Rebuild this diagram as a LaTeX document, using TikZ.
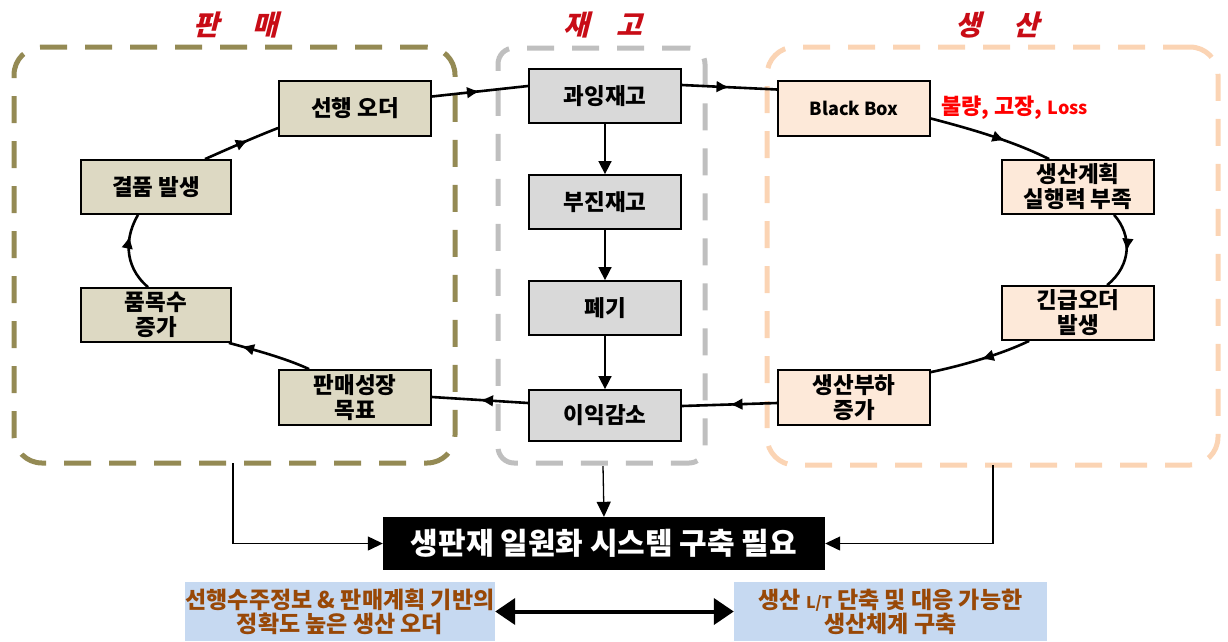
\documentclass[tikz,border=0pt]{standalone}
\usepackage{fontspec}
\setmainfont{Noto Sans CJK KR}
\newfontfamily\titlefont{Noto Sans CJK KR}[FakeSlant=0.25]
\usetikzlibrary{arrows.meta,decorations.markings,calc}
\definecolor{cSales}{RGB}{148,138,84}
\definecolor{cInv}{RGB}{191,191,191}
\definecolor{cProd}{RGB}{251,212,180}
\definecolor{cSalesFill}{RGB}{221,217,195}
\definecolor{cInvFill}{RGB}{217,217,217}
\definecolor{cProdFill}{RGB}{253,233,217}
\definecolor{cTitle}{RGB}{200,12,22}
\definecolor{cBlue}{RGB}{198,217,241}
\definecolor{cBrown}{RGB}{152,72,7}
\begin{document}
\begin{tikzpicture}[x=1pt,y=-1pt,
  box/.style={draw=black, line width=1.8pt, minimum width=152pt, minimum height=54pt,
    inner sep=1pt, align=center, font=\fontsize{22.5}{25}\selectfont\bfseries},
  sbox/.style={box, fill=cSalesFill},
  ibox/.style={box, fill=cInvFill},
  pbox/.style={box, fill=cProdFill},
  grp/.style={line width=5pt, dash pattern=on 27pt off 18pt, rounded corners=28pt,
    inner sep=0pt, outer sep=0pt},
  grptitle/.style={text=cTitle, font=\titlefont\fontsize{28}{30}\selectfont\bfseries},
  loopline/.style={line width=2.6pt, postaction={decorate},
    decoration={markings, mark=at position #1 with {\arrow{Latex[length=13pt,width=12pt]}}}},
  loopline/.default=0.5,
  vline/.style={line width=1.6pt, -{Triangle[length=13pt,width=13pt]}},
  thinline/.style={line width=1.3pt, -{Triangle[length=15pt,width=14pt]}},
  bluebox/.style={fill=cBlue, minimum width=#1, minimum height=59pt, inner sep=0pt,
    align=center, text=cBrown, font=\fontsize{23}{24}\selectfont\bfseries},
]
\useasboundingbox (0,0) rectangle (1228,641);

% groups
\node[grp, draw=cSales, minimum width=441pt, minimum height=416pt] (gs) at (234.5,255) {};
\node[grp, draw=cInv, rounded corners=16pt, minimum width=207pt, minimum height=415pt] (gi) at (601.5,255.5) {};
\node[grp, draw=cProd, minimum width=451pt, minimum height=418pt] (gp) at (992.5,256) {};

% titles
\node[grptitle] (ts) at (236,25) {판\hspace{34pt}매};
\node[grptitle] (ti) at (602.5,25) {재\hspace{27pt}고};
\node[grptitle] (tp) at (997.5,25) {생\hspace{33pt}산};

% sales boxes
\node[sbox, minimum height=55pt] (sh) at (355,108.5) {선행 오더};
\node[sbox, minimum width=150pt] (gp1) at (156,187) {결품 발생};
\node[sbox, minimum width=150pt] (pm) at (156,315) {품목수\\증가};
\node[sbox, minimum height=55pt] (ps) at (355,397.5) {판매성장\\목표};

% inventory boxes
\node[ibox] (gy) at (605,96) {과잉재고};
\node[ibox] (bj) at (605,202) {부진재고};
\node[ibox] (pg) at (605,308) {폐기};
\node[ibox, minimum height=51pt] (ig) at (605,415.5) {이익감소};

% production boxes
\node[pbox, minimum height=55pt, font=\fontsize{18}{22}\selectfont\bfseries] (bb) at (854,108.5) {Black Box};
\node[pbox] (pl) at (1078,187) {생산계획\\실행력 부족};
\node[pbox] (eo) at (1078,313) {긴급오더\\발생};
\node[pbox, minimum height=55pt] (pb) at (854,397.5) {생산부하\\증가};

\node[anchor=west, inner sep=0pt, text=red, font=\fontsize{22}{24}\selectfont\bfseries] (fault) at (941,108)
  {불량, 고장, {\fontsize{18}{20}\selectfont Loss}};

% bottom
\node[fill=black, text=white, minimum width=442pt, minimum height=53pt, inner sep=0pt,
  font=\fontsize{30}{32}\selectfont\bfseries] (sys) at (604,543.5) {생판재 일원화 시스템 구축 필요};
\node[bluebox=310pt] (lb) at (340,611.5) {선행수주정보 \& 판매계획 기반의\\정확도 높은 생산 오더};
\node[bluebox=313pt] (rb) at (890.5,611.5) {생산 {\fontsize{16}{20}\selectfont L/T} 단축 및 대응 가능한\\생산체계 구축};

% loop connectors
\draw[loopline] ($(sh.east)+(0,-12)$) -- ($(gy.west)+(0,-10)$);
\draw[loopline] ($(gy.east)+(0,-11)$) -- ($(bb.west)+(0,-19)$);
\draw[loopline=0.62] ($(bb.east)+(0,10)$) .. controls (975,130) and (1015,142) .. ($(pl.north west)+(48,0)$);
\draw[loopline] ($(pl.south west)+(113,0)$) .. controls (1132,235) and (1132,265) .. ($(eo.north west)+(106,0)$);
\draw[loopline] ($(eo.south west)+(28,0)$) .. controls (1000,355) and (960,366) .. ($(pb.north east)+(0,3)$);
\draw[loopline] ($(pb.west)+(0,5.5)$) -- ($(ig.east)+(0,-9.5)$);
\draw[loopline] ($(ig.west)+(0,-12.5)$) -- ($(ps.east)+(0,-0.5)$);
\draw[loopline=0.85] ($(ps.north west)+(31,0)$) .. controls (285,358) and (255,350) .. ($(pm.south east)+(-3,0)$);
\draw[loopline=0.72] ($(pm.north)+(-8,0)$) .. controls (122,265) and (126,235) .. ($(gp1.south)+(-18,0)$);
\draw[loopline=0.6] ($(gp1.north)+(49,0)$) .. controls (230,148) and (255,137) .. ($(sh.west)+(0,19.5)$);

% inventory flow
\draw[vline] (gy) -- (bj);
\draw[vline] (bj) -- (pg);
\draw[vline] (pg) -- (ig);

% to bottom box
\draw[thinline] ($(gs.south)+(-1.5,0)$) |- (sys.west);
\draw[thinline] ($(gi.south)+(1.5,3)$) -- (sys.north);
\draw[thinline] ($(gp.south)+(0.5,0)$) |- (sys.east);

% double arrow
\draw[line width=4pt, {Triangle[length=20pt,width=26pt]}-{Triangle[length=20pt,width=26pt]}] (lb.east) -- (rb.west);
\end{tikzpicture}
\end{document}
